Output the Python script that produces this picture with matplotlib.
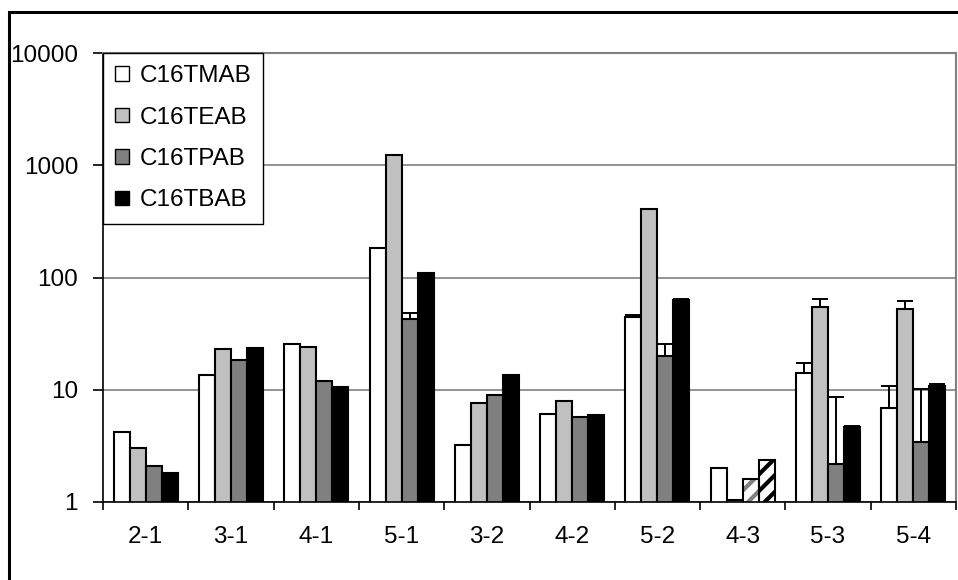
import matplotlib
matplotlib.use("Agg")
import matplotlib.pyplot as plt
import matplotlib.patches as mpatches
import numpy as np

categories = ['2-1', '3-1', '4-1', '5-1', '3-2', '4-2', '5-2', '4-3', '5-3', '5-4']
series_names = ['C16TMAB', 'C16TEAB', 'C16TPAB', 'C16TBAB']

c16tmab = [4.2, 13.5, 25.5, 185, 3.2, 6.1, 44.5, 2.0, 14.0, 6.9]
c16teab = [3.0, 23.0, 24.0, 1230, 7.6, 7.9, 410, 1.05, 55, 52]
c16tpab = [2.1, 18.5, 12.0, 43, 9.0, 5.7, 20.0, 1.6, 2.2, 3.45]
c16tbab = [1.8, 23.5, 10.5, 110, 13.5, 5.9, 63, 2.35, 4.7, 10.9]

# upper error bars (0 = none drawn)
err_tmab = [0, 0, 0, 0, 0, 0, 1.5, 0, 3.2, 3.8]
err_teab = [0, 0, 0, 0, 0, 0, 0, 0, 9.7, 9.2]
err_tpab = [0, 0, 0, 5.0, 0, 0, 5.6, 0, 6.5, 6.7]
err_tbab = [0, 0, 0, 0, 0, 0, 1.5, 0, 0.1, 0.3]

# categories whose bars are drawn with a striped pattern, per series
hatched = {2: ['4-3'], 3: ['4-3']}

y_ticks = [1, 10, 100, 1000, 10000]

values = [c16tmab, c16teab, c16tpab, c16tbab]
errors = [err_tmab, err_teab, err_tpab, err_tbab]
colors = ['#FFFFFF', '#C0C0C0', '#808080', '#000000']
hatch_colors = {2: '#808080', 3: '#000000'}

plt.rcParams['font.family'] = ['Liberation Sans', 'DejaVu Sans']
plt.rcParams['hatch.linewidth'] = 3.0
FS = 17.5

fig = plt.figure(figsize=(9.58, 5.80), dpi=100)
ax = fig.add_axes([103 / 958, 1 - 502 / 580, (956 - 103) / 958, (502 - 53) / 580])

n = len(categories)
x = np.arange(n) + 0.5
w = 0.1875
offsets = [-1.5 * w, -0.5 * w, 0.5 * w, 1.5 * w]

ax.set_yscale('log')
ax.set_ylim(1, 10000)
ax.set_xlim(0, n)

for s in range(4):
    pos = x + offsets[s]
    vals = np.array(values[s])
    for i, cat in enumerate(categories):
        if cat in hatched.get(s, []):
            ax.bar(pos[i], vals[i], width=w, bottom=0, facecolor='white',
                   edgecolor=hatch_colors[s], hatch='//', linewidth=0, zorder=2)
            ax.bar(pos[i], vals[i], width=w, bottom=0, facecolor='none',
                   edgecolor='black', linewidth=1.5, zorder=3)
        else:
            ax.bar(pos[i], vals[i], width=w, bottom=0, color=colors[s],
                   edgecolor='black', linewidth=1.5, zorder=2)
    err = np.array(errors[s])
    m = err > 0
    if m.any():
        ax.errorbar(pos[m], vals[m], yerr=[np.zeros(m.sum()), err[m]],
                    fmt='none', ecolor='black', elinewidth=1.4, capsize=6,
                    capthick=1.4, zorder=4)

# gridlines
ax.yaxis.grid(True, which='major', color='#808080', linewidth=1.2, zorder=0)
ax.yaxis.grid(False, which='minor')
ax.set_axisbelow(True)

ax.set_yticks(y_ticks)
ax.set_yticklabels([str(t) for t in y_ticks], fontsize=FS)
ax.yaxis.set_minor_locator(matplotlib.ticker.NullLocator())
ax.tick_params(axis='y', which='major', direction='out', length=7, width=1.2,
               pad=11, colors='black')

ax.set_xticks(np.arange(n + 1))
ax.set_xticklabels([])
ax.set_xticks(x, minor=True)
ax.set_xticklabels(categories, minor=True, fontsize=FS)
ax.tick_params(axis='x', which='major', direction='out', length=6, width=1.2,
               colors='black')
ax.tick_params(axis='x', which='minor', length=0, pad=17)

for side in ['left', 'bottom']:
    ax.spines[side].set_color('black')
    ax.spines[side].set_linewidth(1.2)
for side in ['top', 'right']:
    ax.spines[side].set_color('#808080')
    ax.spines[side].set_linewidth(1.5)

# legend
handles = []
for s in range(4):
    handles.append(mpatches.Patch(facecolor=colors[s], edgecolor='black',
                                  linewidth=1.0, label=series_names[s]))
leg = ax.legend(handles=handles, loc='upper left', bbox_to_anchor=(0, 1),
                borderaxespad=0, fontsize=FS, handlelength=0.55,
                handleheight=0.55, handletextpad=0.45, labelspacing=0.8,
                borderpad=0.5, fancybox=False, framealpha=1,
                edgecolor='black')
leg.get_frame().set_linewidth(1.0)
leg.set_zorder(10)

# outer chart border
border = mpatches.Rectangle((9 / 958, -0.05), 1.1, 1 - 12 / 580 + 0.05,
                            transform=fig.transFigure, fill=False,
                            edgecolor='black', linewidth=2.2, clip_on=False)
fig.patches.append(border)

fig.savefig('out.png', dpi=100, facecolor='white')
